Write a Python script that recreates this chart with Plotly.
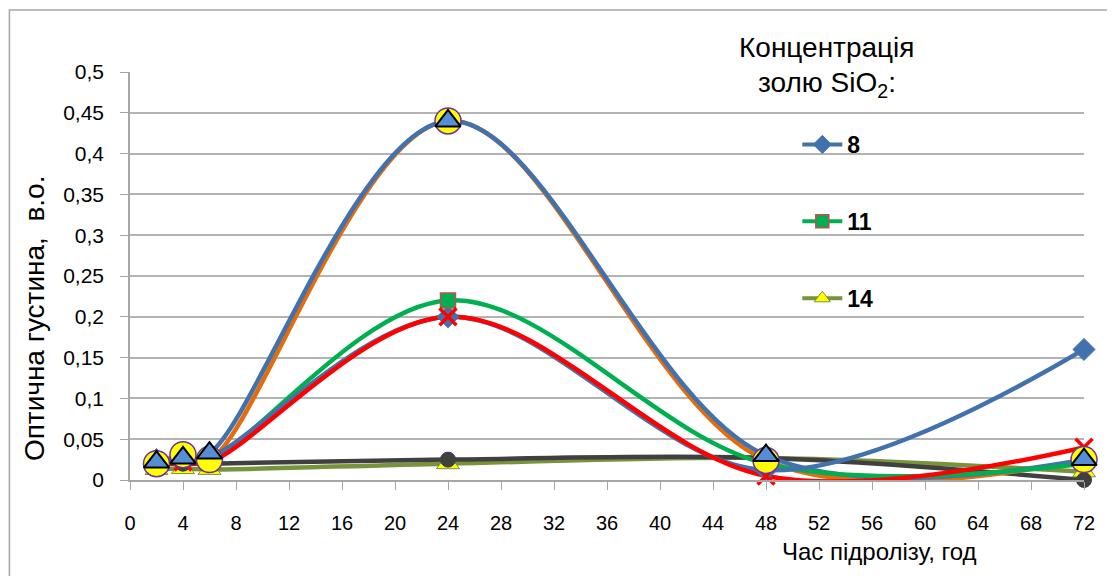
import plotly.graph_objects as go

# ---- data ----
hours = [2, 4, 6, 24, 48, 72]
s8 = [0.025, 0.025, 0.028, 0.200, 0.012, 0.160]
s11 = [0.020, 0.025, 0.025, 0.220, 0.020, 0.020]
s14 = [0.013, 0.014, 0.013, 0.020, 0.027, 0.010]
s_orange = [0.020, 0.031, 0.025, 0.440, 0.024, 0.025]
s_red = [0.018, 0.022, 0.022, 0.200, 0.005, 0.040]
s_dark = [0.020, 0.020, 0.020, 0.025, 0.027, 0.000]
s_blue_tri = [0.022, 0.027, 0.033, 0.440, 0.030, 0.025]

legend_names = ["8", "11", "14"]
x_ticks = list(range(0, 73, 4))
y_ticks = [0, 0.05, 0.1, 0.15, 0.2, 0.25, 0.3, 0.35, 0.4, 0.45, 0.5]
y_ticktext = ["0", "0,05", "0,1", "0,15", "0,2", "0,25", "0,3", "0,35", "0,4", "0,45", "0,5"]

BLUE = "#4272AE"
GREEN = "#00B050"
OLIVE = "#77933C"
ORANGE = "#E46C0A"
RED = "#FF0000"
DARK = "#404040"

REG = "Liberation Sans, Arial, sans-serif"

# screen-pixel helpers (plot area: x 130..1095, y 72..480 on screen)
def px(xs):
    return (xs - 130) / 965

def py(ys):
    return (480 - ys) / 408

fig = go.Figure()

# lines (drawn first)
line_series = [
    (s14, OLIVE), (s_dark, DARK), (s_orange, ORANGE), (s_blue_tri, BLUE),
    (s11, GREEN), (s8, BLUE), (s_red, RED),
]
for ys, col in line_series:
    fig.add_trace(go.Scatter(x=hours, y=ys, mode="lines",
                             line=dict(color=col, width=4.5, shape="spline", smoothing=1.0),
                             showlegend=False, hoverinfo="skip"))

# markers (on top)
marker_series = [
    (s8, dict(symbol="diamond", size=17, color=BLUE, line=dict(color=BLUE, width=1))),
    (s11, dict(symbol="square", size=15, color=GREEN, line=dict(color="#C0504D", width=1.5))),
    (s14, dict(symbol="triangle-up", size=20, color="#FFFF00", line=dict(color=OLIVE, width=1))),
    (s_dark, dict(symbol="circle", size=15, color=DARK, line=dict(color=DARK, width=1))),
    (s_red, dict(symbol="x-thin", size=17, color=RED, line=dict(color=RED, width=3.5))),
    (s_orange, dict(symbol="circle", size=26, color="#FFFF00", line=dict(color="#7030A0", width=1.5))),
    (s_blue_tri, dict(symbol="triangle-up", size=22, color="#558ED5", line=dict(color="#000000", width=2))),
]
for ys, mk in marker_series:
    fig.add_trace(go.Scatter(x=hours, y=ys, mode="markers", marker=mk,
                             showlegend=False, cliponaxis=False))

# legend entries
legend_styles = [
    (BLUE, dict(symbol="diamond", size=14, color=BLUE, line=dict(color=BLUE, width=1))),
    (GREEN, dict(symbol="square", size=13, color=GREEN, line=dict(color="#C0504D", width=1.5))),
    (OLIVE, dict(symbol="triangle-up", size=14, color="#FFFF00", line=dict(color=OLIVE, width=1))),
]
for name, (col, mk) in zip(legend_names, legend_styles):
    fig.add_trace(go.Scatter(x=[None], y=[None], mode="lines+markers", name=name,
                             line=dict(color=col, width=4), marker=mk,
                             legendgroup=name))

fig.update_layout(
    width=1099, height=568,
    margin=dict(l=122, r=12, t=64, b=96),
    paper_bgcolor="white", plot_bgcolor="white",
    showlegend=True,
    legend=dict(x=px(805), y=py(123), xanchor="left", yanchor="top",
                font=dict(family=REG, size=23, color="black", weight="bold"),
                tracegroupgap=44, bgcolor="rgba(0,0,0,0)", itemwidth=40),
    xaxis=dict(range=[0, 72], tickvals=x_ticks, ticks="outside", ticklen=8,
               tickcolor="#A6A6A6", showline=True, linecolor="#A6A6A6", linewidth=1.5,
               showgrid=False, zeroline=False, ticklabelstandoff=16,
               ticklabeloverflow="allow",
               tickfont=dict(family=REG, size=20, color="black")),
    yaxis=dict(range=[0, 0.5], tickvals=y_ticks, ticktext=y_ticktext, ticks="outside",
               ticklen=8, tickcolor="#A6A6A6", showline=True, linecolor="#A6A6A6",
               linewidth=1.5, showgrid=True, gridcolor="#B3B3B3", gridwidth=1.5,
               zeroline=False, ticklabelstandoff=12,
               tickfont=dict(family=REG, size=21, color="black")),
    shapes=[dict(type="rect", xref="paper", yref="paper",
                 x0=px(8), x1=px(1120), y0=py(600), y1=py(10),
                 line=dict(color="#A6A6A6", width=1.5), fillcolor="rgba(0,0,0,0)", layer="below")],
    annotations=[
        dict(text="Оптична густина,  в.о.", xref="paper", yref="paper",
             x=px(33), y=py(318), xanchor="center", yanchor="middle",
             textangle=-90, showarrow=False,
             font=dict(family=REG, size=28, color="black")),
        dict(text="Час підролізу, год", xref="paper", yref="paper",
             x=px(888), y=py(551), xanchor="center", yanchor="middle", showarrow=False,
             font=dict(family=REG, size=24, color="black")),
        dict(text="Концентрація", xref="paper", yref="paper",
             x=px(835), y=py(47), xanchor="center", yanchor="middle", showarrow=False,
             font=dict(family=REG, size=28, color="black")),
        dict(text="золю SiO<sub>2</sub>:", xref="paper", yref="paper",
             x=px(835), y=py(84), xanchor="center", yanchor="middle", showarrow=False,
             font=dict(family=REG, size=28, color="black")),
    ],
)

fig.write_html("out.html")
